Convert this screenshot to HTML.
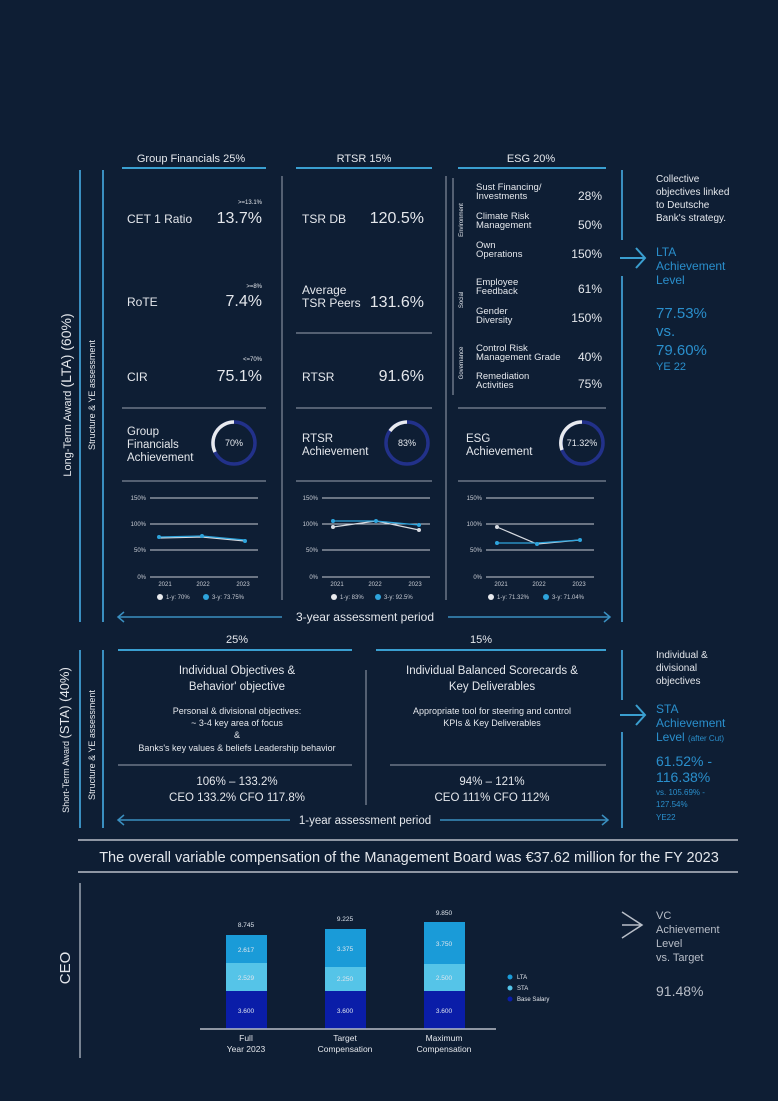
<!DOCTYPE html>
<html><head><meta charset="utf-8"><style>
html,body{margin:0;padding:0;background:#0e1e34;}
svg{display:block;font-family:"Liberation Sans",sans-serif;}
</style></head><body>
<svg width="778" height="1101" viewBox="0 0 778 1101" xmlns="http://www.w3.org/2000/svg">
<rect width="778" height="1101" fill="#0e1e34"/>
<g fill="#e4e7ec" font-size="12">
<line x1="80" y1="170" x2="80" y2="622" stroke="#3a8fc0" stroke-width="2"/>
<line x1="103" y1="170" x2="103" y2="622" stroke="#3a8fc0" stroke-width="2"/>
<text transform="translate(71,395) rotate(-90)" text-anchor="middle" font-size="11">Long-Term Award <tspan font-size="14">(LTA) (60%)</tspan></text>
<text transform="translate(95,395) rotate(-90)" text-anchor="middle" font-size="9">Structure &amp; YE assessment</text>

<text x="191" y="162" text-anchor="middle" font-size="11">Group Financials 25%</text>
<line x1="122" y1="168" x2="266" y2="168" stroke="#3a9fd0" stroke-width="2"/>
<text x="364" y="162" text-anchor="middle" font-size="11">RTSR 15%</text>
<line x1="296" y1="168" x2="432" y2="168" stroke="#3a9fd0" stroke-width="2"/>
<text x="531" y="162" text-anchor="middle" font-size="11">ESG 20%</text>
<line x1="458" y1="168" x2="606" y2="168" stroke="#3a9fd0" stroke-width="2"/>

<line x1="282" y1="176" x2="282" y2="600" stroke="#9aa3b0" stroke-width="1"/>
<line x1="446" y1="176" x2="446" y2="600" stroke="#9aa3b0" stroke-width="1"/>
<line x1="622" y1="170" x2="622" y2="240" stroke="#3a8fc0" stroke-width="2"/>
<line x1="622" y1="276" x2="622" y2="622" stroke="#3a8fc0" stroke-width="2"/>
<path d="M620 258 L645 258 M636 248 L645 258 L636 268" stroke="#3a9fd0" stroke-width="2" fill="none"/>

<text x="127" y="223">CET 1 Ratio</text>
<text x="262" y="223" text-anchor="end" font-size="16">13.7%</text>
<text x="262" y="204" text-anchor="end" font-size="6">&gt;=13.1%</text>
<text x="127" y="306">RoTE</text>
<text x="262" y="306" text-anchor="end" font-size="16">7.4%</text>
<text x="262" y="288" text-anchor="end" font-size="6">&gt;=8%</text>
<text x="127" y="381">CIR</text>
<text x="262" y="381" text-anchor="end" font-size="16">75.1%</text>
<text x="262" y="361" text-anchor="end" font-size="6">&lt;=70%</text>
<line x1="122" y1="408" x2="266" y2="408" stroke="#9aa3b0"/>
<text x="127" y="435" font-size="11.5">Group</text>
<text x="127" y="448" font-size="11.5">Financials</text>
<text x="127" y="461" font-size="11.5">Achievement</text>
<line x1="122" y1="481" x2="266" y2="481" stroke="#9aa3b0"/>

<text x="302" y="223">TSR DB</text>
<text x="424" y="223" text-anchor="end" font-size="16">120.5%</text>
<text x="302" y="294">Average</text>
<text x="302" y="307">TSR Peers</text>
<text x="424" y="307" text-anchor="end" font-size="16">131.6%</text>
<line x1="296" y1="333" x2="432" y2="333" stroke="#9aa3b0"/>
<text x="302" y="381">RTSR</text>
<text x="424" y="381" text-anchor="end" font-size="16">91.6%</text>
<line x1="296" y1="408" x2="432" y2="408" stroke="#9aa3b0"/>
<text x="302" y="442" font-size="11.5">RTSR</text>
<text x="302" y="455" font-size="11.5">Achievement</text>
<line x1="296" y1="481" x2="432" y2="481" stroke="#9aa3b0"/>

<line x1="453" y1="178" x2="453" y2="395" stroke="#9aa3b0"/>
<text transform="translate(463,220) rotate(-90)" text-anchor="middle" font-size="6">Environment</text>
<text transform="translate(463,300) rotate(-90)" text-anchor="middle" font-size="6">Social</text>
<text transform="translate(463,363) rotate(-90)" text-anchor="middle" font-size="6">Governance</text>
<g font-size="9.5">
<text x="476" y="190">Sust Financing/</text><text x="476" y="199">Investments</text>
<text x="476" y="219">Climate Risk</text><text x="476" y="228">Management</text>
<text x="476" y="248">Own</text><text x="476" y="257">Operations</text>
<text x="476" y="285">Employee</text><text x="476" y="294">Feedback</text>
<text x="476" y="314">Gender</text><text x="476" y="323">Diversity</text>
<text x="476" y="351">Control Risk</text><text x="476" y="360">Management Grade</text>
<text x="476" y="379">Remediation</text><text x="476" y="388">Activities</text>
</g>
<g font-size="12" text-anchor="end">
<text x="602" y="200">28%</text><text x="602" y="229">50%</text><text x="602" y="258">150%</text>
<text x="602" y="293">61%</text><text x="602" y="322">150%</text><text x="602" y="361">40%</text><text x="602" y="388">75%</text>
</g>
<line x1="458" y1="408" x2="606" y2="408" stroke="#9aa3b0"/>
<text x="466" y="442" font-size="11.5">ESG</text>
<text x="466" y="455" font-size="11.5">Achievement</text>
<line x1="458" y1="481" x2="606" y2="481" stroke="#9aa3b0"/>

<g fill="none" stroke-width="3.5">
<circle cx="234" cy="443" r="21" stroke="#22318a"/>
<path d="M215 452 A21 21 0 0 1 234 422" stroke="#e8eaee"/>
<circle cx="407" cy="443" r="21" stroke="#22318a"/>
<path d="M390 431 A21 21 0 0 1 407 422" stroke="#e8eaee"/>
<circle cx="582" cy="443" r="21" stroke="#22318a"/>
<path d="M562 450 A21 21 0 0 1 582 422" stroke="#e8eaee"/>
</g>
<text x="234" y="446" text-anchor="middle" font-size="9">70%</text>
<text x="407" y="446" text-anchor="middle" font-size="9">83%</text>
<text x="582" y="446" text-anchor="middle" font-size="9">71.32%</text>

<g font-size="6" fill="#c8ccd4">
<g id="s1">
<g stroke="#c8ccd4" stroke-width="1"><line x1="150" y1="498" x2="258" y2="498"/><line x1="150" y1="524" x2="258" y2="524"/><line x1="150" y1="550" x2="258" y2="550"/><line x1="150" y1="577" x2="258" y2="577"/></g>
<text x="146" y="500" text-anchor="end">150%</text><text x="146" y="526" text-anchor="end">100%</text><text x="146" y="552" text-anchor="end">50%</text><text x="146" y="579" text-anchor="end">0%</text>
<text x="165" y="586" text-anchor="middle">2021</text><text x="203" y="586" text-anchor="middle">2022</text><text x="243" y="586" text-anchor="middle">2023</text>
</g>
<use href="#s1" x="172"/>
<use href="#s1" x="336"/>
</g>
<g fill="none" stroke-width="1.2">
<polyline points="159,538 202,537 245,541" stroke="#d8dce2"/>
<polyline points="159,537 202,536 245,540" stroke="#2ea4dc"/>
<polyline points="333,527 376,521 419,530" stroke="#d8dce2"/>
<polyline points="333,521 376,521 419,525" stroke="#2ea4dc"/>
<polyline points="497,527 537,544 580,540" stroke="#d8dce2"/>
<polyline points="497,543 537,543 580,540" stroke="#2ea4dc"/>
</g>
<g>
<circle cx="159" cy="537" r="2" fill="#2ea4dc"/><circle cx="202" cy="536" r="2" fill="#2ea4dc"/><circle cx="245" cy="541" r="2" fill="#2ea4dc"/>
<circle cx="333" cy="527" r="2" fill="#d8dce2"/><circle cx="376" cy="521" r="2" fill="#2ea4dc"/><circle cx="419" cy="530" r="2" fill="#d8dce2"/>
<circle cx="333" cy="521" r="2" fill="#2ea4dc"/><circle cx="419" cy="525" r="2" fill="#2ea4dc"/>
<circle cx="497" cy="527" r="2" fill="#d8dce2"/><circle cx="537" cy="544" r="2" fill="#2ea4dc"/><circle cx="580" cy="540" r="2" fill="#2ea4dc"/><circle cx="497" cy="543" r="2" fill="#2ea4dc"/>
</g>
<g font-size="6" fill="#c8ccd4">
<circle cx="160" cy="597" r="3" fill="#e8eaee"/><text x="166" y="599">1-y: 70%</text>
<circle cx="206" cy="597" r="3" fill="#2ea4dc"/><text x="212" y="599">3-y: 73.75%</text>
<circle cx="334" cy="597" r="3" fill="#e8eaee"/><text x="340" y="599">1-y: 83%</text>
<circle cx="378" cy="597" r="3" fill="#2ea4dc"/><text x="384" y="599">3-y: 92.5%</text>
<circle cx="491" cy="597" r="3" fill="#e8eaee"/><text x="497" y="599">1-y: 71.32%</text>
<circle cx="546" cy="597" r="3" fill="#2ea4dc"/><text x="552" y="599">3-y: 71.04%</text>
</g>

<g stroke="#3a8fc0" stroke-width="1.5" fill="none">
<line x1="118" y1="617" x2="282" y2="617"/><path d="M124 612 L118 617 L124 622"/>
<line x1="448" y1="617" x2="610" y2="617"/><path d="M604 612 L610 617 L604 622"/>
</g>
<text x="365" y="621" text-anchor="middle" font-size="12">3-year assessment period</text>

<g font-size="10">
<text x="656" y="182">Collective</text><text x="656" y="195">objectives linked</text><text x="656" y="208">to Deutsche</text><text x="656" y="221">Bank's strategy.</text>
</g>
<g fill="#2a8fcc">
<text x="656" y="256" font-size="12">LTA</text><text x="656" y="270" font-size="12">Achievement</text><text x="656" y="284" font-size="12">Level</text>
<text x="656" y="318" font-size="15">77.53%</text><text x="656" y="336" font-size="15">vs.</text><text x="656" y="355" font-size="15">79.60%</text><text x="656" y="370" font-size="11">YE 22</text>
</g>

<!-- STA section -->
<line x1="80" y1="650" x2="80" y2="828" stroke="#3a8fc0" stroke-width="2"/>
<line x1="103" y1="650" x2="103" y2="828" stroke="#3a8fc0" stroke-width="2"/>
<text transform="translate(69,740) rotate(-90)" text-anchor="middle" font-size="9">Short-Term Award <tspan font-size="13">(STA) (40%)</tspan></text>
<text transform="translate(95,745) rotate(-90)" text-anchor="middle" font-size="9">Structure &amp; YE assessment</text>
<text x="237" y="643" text-anchor="middle" font-size="11">25%</text>
<line x1="118" y1="650" x2="352" y2="650" stroke="#3a9fd0" stroke-width="2"/>
<text x="481" y="643" text-anchor="middle" font-size="11">15%</text>
<line x1="376" y1="650" x2="606" y2="650" stroke="#3a9fd0" stroke-width="2"/>
<line x1="366" y1="670" x2="366" y2="805" stroke="#9aa3b0"/>
<line x1="622" y1="650" x2="622" y2="700" stroke="#3a8fc0" stroke-width="2"/>
<line x1="622" y1="732" x2="622" y2="828" stroke="#3a8fc0" stroke-width="2"/>
<path d="M620 715 L645 715 M636 705 L645 715 L636 725" stroke="#3a9fd0" stroke-width="2" fill="none"/>
<g text-anchor="middle">
<text x="237" y="674" font-size="11.5">Individual Objectives &amp;</text>
<text x="237" y="690" font-size="11.5">Behavior' objective</text>
<text x="237" y="714" font-size="9">Personal &amp; divisional objectives:</text>
<text x="237" y="726" font-size="9">~ 3-4 key area of focus</text>
<text x="237" y="738" font-size="9">&amp;</text>
<text x="237" y="751" font-size="9">Banks's key values &amp; beliefs Leadership behavior</text>
<text x="237" y="785" font-size="11.5">106% – 133.2%</text>
<text x="237" y="801" font-size="11.5">CEO 133.2%   CFO 117.8%</text>
<text x="492" y="674" font-size="11.5">Individual Balanced Scorecards &amp;</text>
<text x="492" y="690" font-size="11.5">Key Deliverables</text>
<text x="492" y="714" font-size="9">Appropriate tool for steering and control</text>
<text x="492" y="726" font-size="9">KPIs &amp; Key Deliverables</text>
<text x="492" y="785" font-size="11.5">94% – 121%</text>
<text x="492" y="801" font-size="11.5">CEO 111%   CFO 112%</text>
</g>
<line x1="118" y1="765" x2="352" y2="765" stroke="#9aa3b0"/>
<line x1="390" y1="765" x2="606" y2="765" stroke="#9aa3b0"/>
<g stroke="#3a8fc0" stroke-width="1.5" fill="none">
<line x1="118" y1="820" x2="290" y2="820"/><path d="M124 815 L118 820 L124 825"/>
<line x1="440" y1="820" x2="608" y2="820"/><path d="M602 815 L608 820 L602 825"/>
</g>
<text x="365" y="824" text-anchor="middle" font-size="11.5">1-year assessment period</text>
<g font-size="10">
<text x="656" y="658">Individual &amp;</text><text x="656" y="671">divisional</text><text x="656" y="684">objectives</text>
</g>
<g fill="#2a8fcc">
<text x="656" y="713" font-size="12">STA</text><text x="656" y="727" font-size="12">Achievement</text><text x="656" y="741" font-size="12">Level <tspan font-size="8">(after Cut)</tspan></text>
<text x="656" y="766" font-size="14">61.52% -</text><text x="656" y="782" font-size="14">116.38%</text>
<text x="656" y="795" font-size="8">vs. 105.69% -</text><text x="656" y="807" font-size="8">127.54%</text><text x="656" y="820" font-size="8">YE22</text>
</g>

<line x1="78" y1="840" x2="738" y2="840" stroke="#b8bec8" stroke-width="1.5"/>
<text x="409" y="862" text-anchor="middle" font-size="14.5">The overall variable compensation of the Management Board was €37.62 million for the FY 2023</text>
<line x1="78" y1="872" x2="738" y2="872" stroke="#b8bec8" stroke-width="1.5"/>

<line x1="80" y1="883" x2="80" y2="1058" stroke="#9aa3b0" stroke-width="1.5"/>
<text transform="translate(70,968) rotate(-90)" text-anchor="middle" font-size="15">CEO</text>
<g>
<rect x="226" y="935" width="41" height="28" fill="#1a9bd8"/><rect x="226" y="963" width="41" height="28" fill="#55c4e8"/><rect x="226" y="991" width="41" height="38" fill="#0a1da8"/>
<rect x="325" y="929" width="41" height="38" fill="#1a9bd8"/><rect x="325" y="967" width="41" height="24" fill="#55c4e8"/><rect x="325" y="991" width="41" height="38" fill="#0a1da8"/>
<rect x="424" y="922" width="41" height="42" fill="#1a9bd8"/><rect x="424" y="964" width="41" height="27" fill="#55c4e8"/><rect x="424" y="991" width="41" height="38" fill="#0a1da8"/>
</g>
<line x1="200" y1="1029" x2="496" y2="1029" stroke="#b8bec8" stroke-width="1.5"/>
<g font-size="6.5" text-anchor="middle" fill="#dfe6ee">
<text x="246" y="927">8.745</text><text x="345" y="921">9.225</text><text x="444" y="915">9.850</text>
<text x="246" y="952">2.617</text><text x="246" y="980">2.529</text><text x="246" y="1013">3.600</text>
<text x="345" y="951">3.375</text><text x="345" y="981">2.250</text><text x="345" y="1013">3.600</text>
<text x="444" y="946">3.750</text><text x="444" y="980">2.500</text><text x="444" y="1013">3.600</text>
</g>
<g font-size="8.5" text-anchor="middle">
<text x="246" y="1041">Full</text><text x="246" y="1052">Year 2023</text>
<text x="345" y="1041">Target</text><text x="345" y="1052">Compensation</text>
<text x="444" y="1041">Maximum</text><text x="444" y="1052">Compensation</text>
</g>
<g font-size="6">
<circle cx="510" cy="977" r="2.5" fill="#1a9bd8"/><text x="517" y="979">LTA</text>
<circle cx="510" cy="988" r="2.5" fill="#55c4e8"/><text x="517" y="990">STA</text>
<circle cx="510" cy="999" r="2.5" fill="#0a1da8"/><text x="517" y="1001">Base Salary</text>
</g>
<path d="M622 912 L642 925 L622 938 M622 925 L642 925" stroke="#b8bec8" stroke-width="1.5" fill="none"/>
<g font-size="11" fill="#b8bec8">
<text x="656" y="919">VC</text><text x="656" y="933">Achievement</text><text x="656" y="947">Level</text><text x="656" y="961">vs. Target</text>
<text x="656" y="996" font-size="14">91.48%</text>
</g>
</g>
</svg>
</body></html>
